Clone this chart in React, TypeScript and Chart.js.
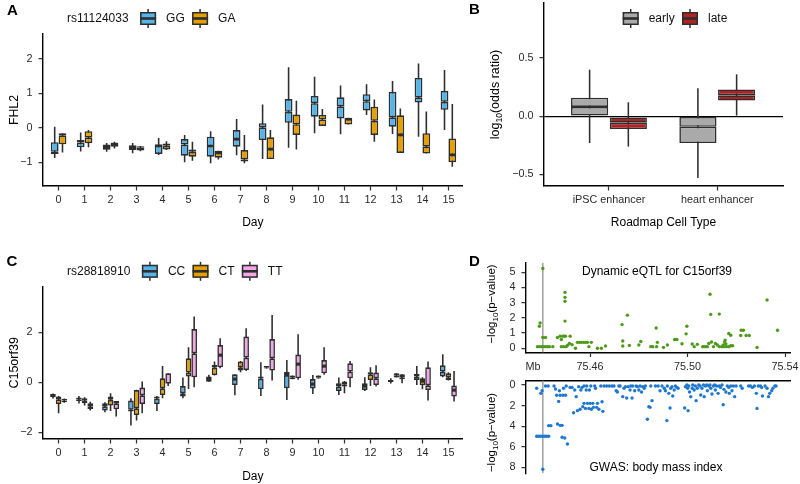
import React, { useEffect, useRef } from 'react';
import { Chart, registerables } from 'chart.js';

Chart.register(...registerables);

const FONT = "'Liberation Sans', Arial, Helvetica, sans-serif";
Chart.defaults.font.family = FONT;

const INK = '#2e2e2e';
const TICK_TXT = '#2a2a2a';
const MINUS = '\u2212';
const fmtInt = (v: number) => (v < 0 ? MINUS + Math.abs(v) : String(v));
const fmt1 = (v: number) => (v < 0 ? MINUS + Math.abs(v).toFixed(1) : v.toFixed(1));

const COL_GG = '#56B4E9';
const COL_GA = '#E69F00';
const COL_CC = '#56B4E9';
const COL_CT = '#E69F00';
const COL_TT = '#F4A7E8';
const COL_EARLY = '#AAAAAA';
const COL_LATE = '#B22222';
const COL_EQTL = '#4C9A1A';
const COL_GWAS = '#1F78D0';
const COL_LEAD = '#A0A0A0';

// ---------------- Panel A: FHL2 by rs11124033 ----------------
const DAYS = [0, 1, 2, 3, 4, 5, 6, 7, 8, 9, 10, 11, 12, 13, 14, 15];
const A_Y_TICKS = [-1, 0, 1, 2];
const A_GG_LO = [-0.88, -0.69, -0.70, -0.74, -0.79, -1.00, -1.03, -0.80, -0.91, -0.58, -0.16, -0.19, 0.37, -0.18, -0.26, -0.07];
const A_GG_Q1 = [-0.76, -0.57, -0.64, -0.65, -0.76, -0.81, -0.84, -0.55, -0.36, 0.14, 0.32, 0.27, 0.50, 0.03, 0.73, 0.52];
const A_GG_MED = [-0.70, -0.43, -0.56, -0.59, -0.53, -0.49, -0.53, -0.33, 0.01, 0.46, 0.71, 0.62, 0.77, 0.30, 0.87, 0.75];
const A_GG_Q3 = [-0.42, -0.36, -0.49, -0.51, -0.48, -0.33, -0.26, -0.07, 0.13, 0.83, 0.92, 0.88, 0.97, 1.04, 1.44, 1.07];
const A_GG_HI = [0.03, -0.14, -0.44, -0.44, -0.30, -0.21, -0.10, 0.25, 0.67, 1.75, 1.48, 1.22, 1.26, 1.35, 1.86, 1.67];
const A_GA_LO = [-0.72, -0.57, -0.60, -0.68, -0.65, -0.96, -0.92, -1.03, -0.91, -0.63, 0.05, 0.09, -0.41, -0.73, -0.75, -1.13];
const A_GA_Q1 = [-0.48, -0.45, -0.55, -0.66, -0.63, -0.84, -0.87, -0.98, -0.91, -0.21, 0.05, 0.09, -0.21, -0.73, -0.75, -1.00];
const A_GA_MED = [-0.22, -0.29, -0.47, -0.57, -0.52, -0.70, -0.73, -0.92, -0.62, 0.10, 0.24, 0.25, 0.20, -0.21, -0.55, -0.79];
const A_GA_Q3 = [-0.16, -0.10, -0.43, -0.54, -0.46, -0.63, -0.67, -0.65, -0.28, 0.38, 0.37, 0.29, 0.61, 0.36, -0.16, -0.31];
const A_GA_HI = [-0.16, -0.07, -0.41, -0.53, -0.39, -0.41, -0.67, -0.21, -0.07, 0.78, 0.54, 0.29, 0.82, 0.56, 0.47, 0.69];

// ---------------- Panel B: enrichment ----------------
const B_CATEGORIES = ['iPSC enhancer', 'heart enhancer'];
const B_X = [0, 1];
const B_Y_TICKS = [-0.5, 0, 0.5];
const B_EARLY_LO = [-0.23, -0.53];
const B_EARLY_Q1 = [0.0, -0.23];
const B_EARLY_MED = [0.08, -0.09];
const B_EARLY_Q3 = [0.16, 0.0];
const B_EARLY_HI = [0.40, 0.24];
const B_LATE_LO = [-0.26, 0.0];
const B_LATE_Q1 = [-0.11, 0.135];
const B_LATE_MED = [-0.055, 0.18];
const B_LATE_Q3 = [-0.01, 0.23];
const B_LATE_HI = [0.12, 0.36];

// ---------------- Panel C: C15orf39 by rs28818910 ----------------
const C_Y_TICKS = [-2, 0, 2];
const C_CC_LO = [-0.65, -0.85, -1.20, -1.73, -1.15, -0.64, 0.00, -0.52, -0.55, -0.71, -0.47, -0.51, -0.35, -0.05, -0.11, 0.20];
const C_CC_Q1 = [-0.60, -0.75, -1.13, -1.17, -0.87, -0.57, 0.00, -0.11, -0.28, -0.24, -0.25, -0.35, -0.31, 0.01, 0.09, 0.23];
const C_CC_MED = [-0.51, -0.68, -0.96, -1.10, -0.65, -0.44, 0.13, 0.13, 0.15, 0.29, -0.07, -0.17, -0.15, 0.05, 0.23, 0.43];
const C_CC_Q3 = [-0.47, -0.61, -0.84, -0.73, -0.57, -0.15, 0.23, 0.32, 0.23, 0.41, 0.13, -0.04, -0.04, 0.09, 0.33, 0.68];
const C_CC_HI = [-0.45, -0.55, -0.80, -0.64, -0.55, 0.19, 0.30, 0.32, 0.80, 0.89, 0.29, 0.19, 0.20, 0.16, 0.65, 1.12];
const C_CT_LO = [-1.24, -0.93, -1.15, -1.53, -0.64, -0.27, 0.27, 0.40, 0.55, 0.12, 0.15, -0.44, -0.15, 0.19, -0.28, 0.07];
const C_CT_Q1 = [-0.87, -0.84, -0.93, -1.31, -0.51, 0.23, 0.29, 0.47, 0.55, 0.12, 0.15, -0.17, 0.09, 0.19, -0.12, 0.09];
const C_CT_MED = [-0.68, -0.72, -0.70, -1.04, -0.24, 0.39, 0.59, 0.60, 0.60, 0.20, 0.20, -0.08, 0.32, 0.28, 0.05, 0.20];
const C_CT_Q3 = [-0.57, -0.64, -0.57, -0.31, 0.16, 0.96, 0.69, 0.83, 0.65, 0.27, 0.27, 0.03, 0.40, 0.36, 0.16, 0.36];
const C_CT_HI = [-0.55, -0.60, -0.44, -0.30, 0.65, 1.40, 0.83, 0.85, 0.65, 0.27, 0.27, 0.05, 0.60, 0.36, 0.20, 0.40];
const C_TT_LO = [-0.82, -1.13, -1.37, -1.24, -0.15, -0.20, 0.56, 0.45, 0.07, 0.10, 0.30, -0.20, -0.17, -0.04, -0.73, -0.77];
const C_TT_Q1 = [-0.80, -1.07, -1.08, -0.87, -0.07, 0.20, 0.60, 0.49, 0.47, 0.16, 0.36, 0.16, -0.11, 0.12, -0.31, -0.57];
const C_TT_MED = [-0.73, -0.96, -0.84, -0.52, -0.05, 1.16, 1.09, 0.99, 0.96, 0.73, 0.65, 0.43, 0.16, 0.20, -0.12, -0.31];
const C_TT_Q3 = [-0.67, -0.84, -0.75, -0.21, 0.36, 2.13, 1.49, 1.83, 1.73, 1.11, 0.89, 0.76, 0.39, 0.32, 0.60, -0.13];
const C_TT_HI = [-0.65, -0.78, -0.75, 0.03, 0.36, 2.63, 1.76, 2.16, 2.69, 1.92, 1.40, 0.85, 0.68, 0.32, 0.83, 0.45];

// ---------------- Panel D: locus plots ----------------
const LEAD_SNP_MB = 75.4406;
const MB_LABEL_AT = 75.4366;
const D_X_TICKS = [75.46, 75.5, 75.54];
const D1_Y_TICKS = [0, 1, 2, 3, 4, 5];
const D2_Y_TICKS = [0, 2, 4, 6, 8];
const D_X_MIN = 75.4337;
const D_X_MAX = 75.5423;
const D1_Y_MIN = -0.276;
const D1_Y_MAX = 5.61;
const D2_Y_MIN = -0.44;
const D2_Y_MAX = 8.58;

const EQTL_MB = [
  75.4384, 75.4392, 75.4400, 75.4409, 75.4417, 75.4425, 75.4433, 75.4447, 75.4392, 75.4395,
  75.4406, 75.4417, 75.4406, 75.4466, 75.4477, 75.4482, 75.4488, 75.4493, 75.4499, 75.4482,
  75.4491, 75.4502, 75.4507, 75.4518, 75.4515, 75.4526, 75.4540, 75.4548, 75.4556, 75.4564,
  75.4573, 75.4581, 75.4589, 75.4595, 75.4605, 75.4497, 75.4497, 75.4497, 75.4497, 75.4630,
  75.4646, 75.4663, 75.4731, 75.4734, 75.4734, 75.4753, 75.4761, 75.4800, 75.4808, 75.4849,
  75.4857, 75.4871, 75.4876, 75.4873, 75.4901, 75.4917, 75.4947, 75.4956, 75.4977, 75.4994,
  75.4997, 75.5019, 75.5027, 75.5040, 75.5062, 75.5068, 75.5076, 75.5081, 75.5087, 75.5092,
  75.5095, 75.5098, 75.5106, 75.5114, 75.5122, 75.5130, 75.5130, 75.5141, 75.5146, 75.5152,
  75.5149, 75.5154, 75.5157, 75.5160, 75.5169, 75.5177, 75.5169, 75.5177, 75.5185, 75.5220,
  75.5229, 75.5218, 75.5240, 75.5253, 75.5285, 75.5326, 75.5369,
];
const EQTL_LOGP = [
  0.11, 0.11, 0.11, 0.11, 0.11, 0.11, 0.11, 0.11, 1.45, 1.66,
  0.71, 0.71, 5.25, 0.71, 0.80, 0.58, 0.80, 0.80, 0.80, 0.11,
  0.11, 0.11, 0.19, 0.80, 0.32, 0.24, 0.00, 0.39, 0.39, 0.39,
  0.39, 0.39, 0.39, 0.11, 0.39, 3.68, 3.35, 3.09, 1.79, 0.00,
  0.00, 0.15, 1.56, 0.48, 0.15, 2.18, 0.19, 0.22, 0.45, 0.11,
  0.11, 1.34, 0.39, 0.11, 0.06, 0.22, 0.58, 0.58, 0.30, 0.95,
  1.45, 0.28, 0.11, 0.26, 0.11, 0.11, 0.11, 0.11, 0.32, 3.55,
  2.23, 0.41, 0.11, 0.32, 0.22, 2.25, 0.11, 0.11, 0.22, 0.41,
  0.11, 0.54, 0.28, 0.11, 0.97, 0.86, 0.11, 0.17, 0.17, 1.19,
  1.19, 0.84, 0.84, 0.84, 0.06, 3.18, 1.19,
];

const GWAS_MB = [
  75.4381, 75.4398, 75.4403, 75.4381, 75.4389, 75.4398, 75.4406, 75.4414, 75.4422, 75.4430,
  75.4406, 75.4417, 75.4428, 75.4430, 75.4439, 75.4452, 75.4458, 75.4463, 75.4471, 75.4474,
  75.4477, 75.4488, 75.4491, 75.4499, 75.4502, 75.4466, 75.4477, 75.4485, 75.4485, 75.4496,
  75.4507, 75.4518, 75.4526, 75.4532, 75.4537, 75.4543, 75.4548, 75.4553, 75.4559, 75.4562,
  75.4567, 75.4570, 75.4575, 75.4575, 75.4581, 75.4584, 75.4586, 75.4589, 75.4595, 75.4597,
  75.4600, 75.4603, 75.4605, 75.4611, 75.4614, 75.4619, 75.4622, 75.4627, 75.4630, 75.4636,
  75.4644, 75.4649, 75.4652, 75.4657, 75.4668, 75.4679, 75.4690, 75.4698, 75.4707, 75.4712,
  75.4718, 75.4723, 75.4734, 75.4739, 75.4745, 75.4750, 75.4756, 75.4764, 75.4767, 75.4772,
  75.4775, 75.4783, 75.4789, 75.4794, 75.4800, 75.4805, 75.4811, 75.4816, 75.4822, 75.4827,
  75.4835, 75.4841, 75.4846, 75.4849, 75.4854, 75.4868, 75.4879, 75.4887, 75.4895, 75.4904,
  75.4909, 75.4915, 75.4917, 75.4923, 75.4928, 75.4931, 75.4936, 75.4939, 75.4945, 75.4950,
  75.4956, 75.4961, 75.4988, 75.4991, 75.4997, 75.5000, 75.5002, 75.5005, 75.5008, 75.5013,
  75.5019, 75.5021, 75.5027, 75.5032, 75.5035, 75.5040, 75.5046, 75.5051, 75.5054, 75.5059,
  75.5065, 75.5068, 75.5073, 75.5079, 75.5081, 75.5087, 75.5092, 75.5095, 75.5100, 75.5106,
  75.5111, 75.5114, 75.5119, 75.5125, 75.5130, 75.5135, 75.5141, 75.5146, 75.5149, 75.5157,
  75.5163, 75.5169, 75.5171, 75.5177, 75.5182, 75.5188, 75.5193, 75.5199, 75.5218, 75.5224,
  75.5250, 75.5258, 75.5266, 75.5274, 75.5282, 75.5285, 75.5290, 75.5299, 75.5304, 75.5307,
  75.5318, 75.5326, 75.5332, 75.5337, 75.5345, 75.5350, 75.5358, 75.5363,
];
const GWAS_LOGP = [
  0.32, 0.81, 0.55, 4.98, 4.98, 4.98, 4.98, 4.98, 4.98, 4.98,
  8.19, 0.10, 0.10, 3.95, 3.95, 0.10, 0.39, 1.00, 1.59, 0.55,
  1.00, 1.00, 0.32, 1.00, 0.10, 3.79, 3.92, 3.92, 5.08, 5.15,
  5.73, 0.23, 0.23, 2.69, 0.49, 1.13, 2.49, 0.16, 2.36, 0.49,
  0.23, 2.10, 0.10, 1.78, 2.27, 0.49, 0.10, 1.78, 2.27, 0.49,
  1.78, 0.10, 2.36, 1.78, 2.17, 0.10, 0.32, 2.17, 1.78, 2.36,
  0.10, 1.62, 2.56, 0.10, 0.10, 0.10, 0.10, 0.10, 0.55, 0.68,
  0.10, 0.10, 1.13, 0.32, 0.16, 1.26, 0.16, 0.49, 0.10, 1.26,
  0.10, 0.55, 0.10, 0.16, 0.49, 0.10, 0.68, 0.16, 0.32, 0.10,
  3.33, 2.10, 2.17, 0.10, 1.52, 0.10, 0.10, 0.55, 0.10, 0.32,
  0.55, 3.46, 0.10, 0.81, 2.23, 0.32, 0.16, 1.07, 0.49, 0.10,
  0.23, 0.32, 2.23, 0.16, 0.00, 0.32, 2.49, 0.10, 0.68, 1.13,
  0.32, 0.00, 0.49, 0.10, 1.52, 0.32, 0.00, 0.10, 0.97, 0.32,
  0.00, 1.13, 0.10, 0.00, 0.55, 0.10, 0.00, 0.32, 0.87, 0.10,
  0.00, 0.49, 0.10, 0.81, 0.10, 0.23, 0.00, 1.91, 0.42, 0.68,
  0.10, 0.23, 0.81, 0.10, 0.55, 0.10, 1.13, 0.10, 0.10, 0.32,
  0.10, 0.10, 0.23, 0.10, 0.81, 2.27, 0.10, 0.10, 0.23, 1.07,
  0.10, 0.32, 1.13, 0.81, 0.55, 0.32, 0.10, 0.10,
];

// ---------------- helpers ----------------
type LegendSpec = { x: number; y: number; title?: string; items: { label: string; color: string }[] };
type TextSpec = { text: string; x: number; y: number; size?: number };
type RichPart = { t: string; size: number; sub?: boolean };
type RotSpec = { parts: RichPart[]; x: number; y: number };

function drawKey(ctx: CanvasRenderingContext2D, x: number, yc: number, color: string) {
  const w = 16;
  const h = 13;
  ctx.fillStyle = INK;
  ctx.fillRect(x + w / 2 - 0.75, yc - h / 2 - 3, 1.5, h + 6);
  ctx.fillStyle = color;
  ctx.fillRect(x, yc - h / 2, w, h);
  ctx.strokeStyle = INK;
  ctx.lineWidth = 1.5;
  ctx.strokeRect(x + 0.75, yc - h / 2 + 0.75, w - 1.5, h - 1.5);
  ctx.fillStyle = INK;
  ctx.fillRect(x, yc - 1.3, w, 2.6);
}

function drawRotated(ctx: CanvasRenderingContext2D, spec: RotSpec) {
  ctx.save();
  ctx.translate(spec.x, spec.y);
  ctx.rotate(-Math.PI / 2);
  let total = 0;
  spec.parts.forEach((p) => {
    ctx.font = `${p.size}px ${FONT}`;
    total += ctx.measureText(p.t).width;
  });
  const main = spec.parts[0].size;
  let x = -total / 2;
  ctx.textAlign = 'left';
  ctx.textBaseline = 'alphabetic';
  ctx.fillStyle = '#000';
  spec.parts.forEach((p) => {
    ctx.font = `${p.size}px ${FONT}`;
    const dy = main * 0.36 + (p.sub ? main * 0.28 : 0);
    ctx.fillText(p.t, x, dy);
    x += ctx.measureText(p.t).width;
  });
  ctx.restore();
}

function overlayPlugin(legend?: LegendSpec, texts: TextSpec[] = [], rotated: RotSpec[] = []) {
  return {
    id: 'overlay',
    afterDraw(chart: any) {
      const ctx: CanvasRenderingContext2D = chart.ctx;
      ctx.save();
      ctx.textBaseline = 'middle';
      ctx.textAlign = 'left';
      ctx.font = `12px ${FONT}`;
      if (legend) {
        let x = legend.x;
        if (legend.title) {
          ctx.fillStyle = '#111';
          ctx.fillText(legend.title, x, legend.y);
          x += ctx.measureText(legend.title).width + 11.5;
        }
        legend.items.forEach((it) => {
          drawKey(ctx, x, legend.y, it.color);
          x += 26;
          ctx.fillStyle = '#111';
          ctx.font = `12px ${FONT}`;
          ctx.textBaseline = 'middle';
          ctx.fillText(it.label, x, legend.y);
          x += ctx.measureText(it.label).width + 7.3;
        });
      }
      texts.forEach((t) => {
        ctx.textAlign = 'center';
        ctx.textBaseline = 'middle';
        ctx.fillStyle = '#000';
        ctx.font = `${t.size || 12}px ${FONT}`;
        ctx.fillText(t.text, t.x, t.y);
      });
      rotated.forEach((r) => drawRotated(ctx, r));
      ctx.restore();
    },
  };
}

const TICK_FONT = { size: 10.8, family: FONT };
const AXIS_BORDER = { display: true, color: '#000', width: 1.4 };

function yAxis(o: any) {
  return {
    type: 'linear',
    min: o.min,
    max: o.max,
    reverse: !!o.reverse,
    stacked: false,
    afterBuildTicks: (s: any) => {
      s.ticks = o.ticks.map((v: number) => ({ value: v }));
    },
    afterFit: (s: any) => {
      s.width = o.width;
      s.paddingTop = 0;
      s.paddingBottom = 0;
    },
    ticks: { callback: o.fmt, padding: 6, font: TICK_FONT, color: TICK_TXT, autoSkip: false },
    grid: {
      drawOnChartArea: !!o.zeroLine,
      color: (c: any) => (o.zeroLine && c.tick && c.tick.value === 0 ? '#000' : 'rgba(0,0,0,0)'),
      lineWidth: 1.3,
      drawTicks: true,
      tickLength: 4.5,
      tickColor: INK,
      tickWidth: 1.2,
    },
    border: AXIS_BORDER,
    title: o.title
      ? { display: true, text: o.title, color: '#000', font: { size: o.titleSize || 12, family: FONT }, padding: { top: o.titlePad, bottom: 0 } }
      : { display: false },
  };
}

function xAxis(o: any) {
  return {
    type: 'linear',
    position: o.position || 'bottom',
    min: o.min,
    max: o.max,
    offset: false,
    afterBuildTicks: (s: any) => {
      s.ticks = o.ticks.map((v: number) => ({ value: v }));
    },
    afterFit: (s: any) => {
      s.height = o.height;
      s.paddingLeft = 0;
      s.paddingRight = 0;
    },
    ticks: {
      display: o.showLabels !== false,
      autoSkip: false,
      maxRotation: 0,
      minRotation: 0,
      padding: 3.5,
      callback: o.fmt,
      font: TICK_FONT,
      color: TICK_TXT,
    },
    grid: {
      offset: false,
      drawOnChartArea: false,
      drawTicks: o.showLabels !== false,
      tickLength: 4.5,
      tickColor: o.tickColor || INK,
      tickWidth: 1.2,
    },
    border: AXIS_BORDER,
    title: o.title
      ? { display: true, text: o.title, color: '#000', font: { size: 12, family: FONT }, padding: { top: 0, bottom: o.titlePad } }
      : { display: false },
  };
}

function boxChart(o: any) {
  const datasets: any[] = [];
  o.groups.forEach((g: any) => {
    const base = { stack: g.name, categoryPercentage: o.cp, inflateAmount: 0 };
    const pairs = (a: number[], b: number[]) => o.xs.map((x: number, i: number) => ({ x, y: [a[i], b[i]] }));
    const boxStyle = {
      backgroundColor: g.color,
      borderColor: INK,
      borderWidth: 1.6,
      borderSkipped: false,
      barPercentage: o.bp,
      order: 0,
    };
    datasets.push({ ...base, ...boxStyle, label: g.name + ' lower', data: pairs(g.q1, g.med) });
    datasets.push({ ...base, ...boxStyle, label: g.name + ' upper', data: pairs(g.med, g.q3) });
    datasets.push({
      ...base,
      label: g.name + ' whiskers',
      data: pairs(g.lo, g.hi),
      backgroundColor: INK,
      borderWidth: 0,
      barPercentage: o.wbp,
      order: 1,
    });
  });
  return {
    type: 'bar',
    data: { datasets },
    options: {
      responsive: false,
      maintainAspectRatio: false,
      animation: false,
      events: [],
      layout: { padding: o.padding },
      plugins: { legend: { display: false }, tooltip: { enabled: false } },
      scales: { x: xAxis(o.x), y: yAxis(o.y) },
    },
    plugins: [overlayPlugin(o.legend, o.texts, o.rotated)],
  };
}

function scatterChart(o: any) {
  return {
    type: 'scatter',
    data: {
      datasets: [
        {
          label: o.label,
          data: o.xs.map((x: number, i: number) => ({ x, y: o.ys[i] })),
          pointRadius: 1.7,
          pointBackgroundColor: o.color,
          pointBorderWidth: 0,
          order: 0,
        },
        {
          label: 'lead SNP',
          data: [
            { x: LEAD_SNP_MB, y: o.y.min },
            { x: LEAD_SNP_MB, y: o.y.max },
          ],
          showLine: true,
          borderColor: COL_LEAD,
          borderWidth: 1.5,
          pointRadius: 0,
          order: 1,
        },
      ],
    },
    options: {
      responsive: false,
      maintainAspectRatio: false,
      animation: false,
      events: [],
      layout: { padding: o.padding },
      plugins: { legend: { display: false }, tooltip: { enabled: false } },
      scales: { x: xAxis(o.x), y: yAxis(o.y) },
    },
    plugins: [overlayPlugin(undefined, o.texts, o.rotated)],
  };
}

// ---------------- chart builders ----------------
const buildA = () =>
  boxChart({
    xs: DAYS,
    cp: 0.6,
    bp: 1,
    wbp: 0.2,
    padding: { left: 0, top: 34, right: 7.3, bottom: 0 },
    groups: [
      { name: 'GG', color: COL_GG, lo: A_GG_LO, q1: A_GG_Q1, med: A_GG_MED, q3: A_GG_Q3, hi: A_GG_HI },
      { name: 'GA', color: COL_GA, lo: A_GA_LO, q1: A_GA_Q1, med: A_GA_MED, q3: A_GA_Q3, hi: A_GA_HI },
    ],
    x: { min: -0.6, max: 15.55, ticks: DAYS, fmt: fmtInt, height: 54, title: 'Day', titlePad: 9.8 },
    y: { min: -1.69, max: 2.716, ticks: A_Y_TICKS, fmt: fmtInt, width: 43, title: 'FHL2', titlePad: 7.5, titleSize: 12.3 },
    legend: { x: 67, y: 18.5, title: 'rs11124033', items: [{ label: 'GG', color: COL_GG }, { label: 'GA', color: COL_GA }] },
  });

const buildB = () =>
  boxChart({
    xs: B_X,
    cp: 0.715,
    bp: 0.96,
    wbp: 0.04,
    padding: { left: 10, top: 3, right: 17, bottom: 0 },
    groups: [
      { name: 'early', color: COL_EARLY, lo: B_EARLY_LO, q1: B_EARLY_Q1, med: B_EARLY_MED, q3: B_EARLY_Q3, hi: B_EARLY_HI },
      { name: 'late', color: COL_LATE, lo: B_LATE_LO, q1: B_LATE_Q1, med: B_LATE_MED, q3: B_LATE_Q3, hi: B_LATE_HI },
    ],
    x: { min: -0.6, max: 1.607, ticks: B_X, fmt: (v: number) => B_CATEGORIES[v], height: 54, title: 'Roadmap Cell Type', titlePad: 9.8 },
    y: { min: -0.599, max: 0.973, ticks: B_Y_TICKS, fmt: fmt1, width: 64, zeroLine: true },
    legend: { x: 152.7, y: 18.5, items: [{ label: 'early', color: COL_EARLY }, { label: 'late', color: COL_LATE }] },
    rotated: [
      {
        x: 24,
        y: 94.5,
        parts: [
          { t: 'log', size: 12.5 },
          { t: '10', size: 8.5, sub: true },
          { t: '(odds ratio)', size: 12.5 },
        ],
      },
    ],
  });

const buildC = () =>
  boxChart({
    xs: DAYS,
    cp: 0.65,
    bp: 1,
    wbp: 0.28,
    padding: { left: 0, top: 46.7, right: 7.3, bottom: 0 },
    groups: [
      { name: 'CC', color: COL_CC, lo: C_CC_LO, q1: C_CC_Q1, med: C_CC_MED, q3: C_CC_Q3, hi: C_CC_HI },
      { name: 'CT', color: COL_CT, lo: C_CT_LO, q1: C_CT_Q1, med: C_CT_MED, q3: C_CT_Q3, hi: C_CT_HI },
      { name: 'TT', color: COL_TT, lo: C_TT_LO, q1: C_TT_Q1, med: C_TT_MED, q3: C_TT_Q3, hi: C_TT_HI },
    ],
    x: { min: -0.6, max: 15.55, ticks: DAYS, fmt: fmtInt, height: 45, title: 'Day', titlePad: 0.1 },
    y: { min: -2.268, max: 3.824, ticks: C_Y_TICKS, fmt: fmtInt, width: 43, title: 'C15orf39', titlePad: 7, titleSize: 12.5 },
    legend: {
      x: 67,
      y: 31.3,
      title: 'rs28818910',
      items: [
        { label: 'CC', color: COL_CC },
        { label: 'CT', color: COL_CT },
        { label: 'TT', color: COL_TT },
      ],
    },
  });

const D_YTITLE: RichPart[] = [
  { t: MINUS + 'log', size: 11.5 },
  { t: '10', size: 8, sub: true },
  { t: '(p' + MINUS + 'value)', size: 11.5 },
];

const buildD1 = () =>
  scatterChart({
    label: 'Dynamic eQTL',
    xs: EQTL_MB,
    ys: EQTL_LOGP,
    color: COL_EQTL,
    padding: { left: 8, top: 23, right: 9.3, bottom: 0 },
    x: {
      min: D_X_MIN,
      max: D_X_MAX,
      ticks: [MB_LABEL_AT, ...D_X_TICKS],
      fmt: (v: number) => (v === MB_LABEL_AT ? 'Mb' : v.toFixed(2)),
      tickColor: (c: any) => (c.tick && c.tick.value === MB_LABEL_AT ? 'rgba(0,0,0,0)' : INK),
      height: 27.5,
    },
    y: { min: D1_Y_MIN, max: D1_Y_MAX, ticks: D1_Y_TICKS, fmt: fmtInt, width: 48 },
    texts: [{ text: 'Dynamic eQTL for C15orf39', x: 187, y: 31.7 }],
    rotated: [{ x: 20.5, y: 64, parts: D_YTITLE }],
  });

const buildD2 = () =>
  scatterChart({
    label: 'GWAS',
    xs: GWAS_MB,
    ys: GWAS_LOGP,
    color: COL_GWAS,
    padding: { left: 8, top: 10.5, right: 9.3, bottom: 10.7 },
    x: { min: D_X_MIN, max: D_X_MAX, ticks: D_X_TICKS, fmt: (v: number) => v.toFixed(2), height: 0, position: 'top', showLabels: false },
    y: { min: D2_Y_MIN, max: D2_Y_MAX, ticks: D2_Y_TICKS, fmt: fmtInt, width: 48, reverse: true },
    texts: [{ text: 'GWAS: body mass index', x: 186, y: 97.7 }],
    rotated: [{ x: 20.5, y: 62.5, parts: D_YTITLE }],
  });

function ChartCanvas({ x, y, w, h, build }: { x: number; y: number; w: number; h: number; build: () => any }) {
  const ref = useRef<HTMLCanvasElement | null>(null);
  useEffect(() => {
    if (!ref.current) return;
    const chart = new Chart(ref.current, build());
    return () => chart.destroy();
  }, [build]);
  return <canvas ref={ref} width={w} height={h} style={{ position: 'absolute', left: x, top: y, width: w, height: h }} />;
}

const letterStyle = (left: number, top: number): React.CSSProperties => ({
  position: 'absolute',
  left,
  top,
  font: `bold 15px ${FONT}`,
  lineHeight: '15px',
  color: '#000',
});

export default function App() {
  return (
    <div style={{ position: 'absolute', left: 0, top: 0, width: 800, height: 484, background: '#fff', overflow: 'hidden' }}>
      <ChartCanvas x={0} y={0} w={470} h={240} build={buildA} />
      <ChartCanvas x={470} y={0} w={330} h={240} build={buildB} />
      <ChartCanvas x={0} y={240} w={470} h={244} build={buildC} />
      <ChartCanvas x={470} y={240} w={330} h={140} build={buildD1} />
      <ChartCanvas x={470} y={370} w={330} h={114} build={buildD2} />
      <div style={letterStyle(7, 2)}>A</div>
      <div style={letterStyle(469, 1.3)}>B</div>
      <div style={letterStyle(6.5, 253)}>C</div>
      <div style={letterStyle(469, 253)}>D</div>
    </div>
  );
}
